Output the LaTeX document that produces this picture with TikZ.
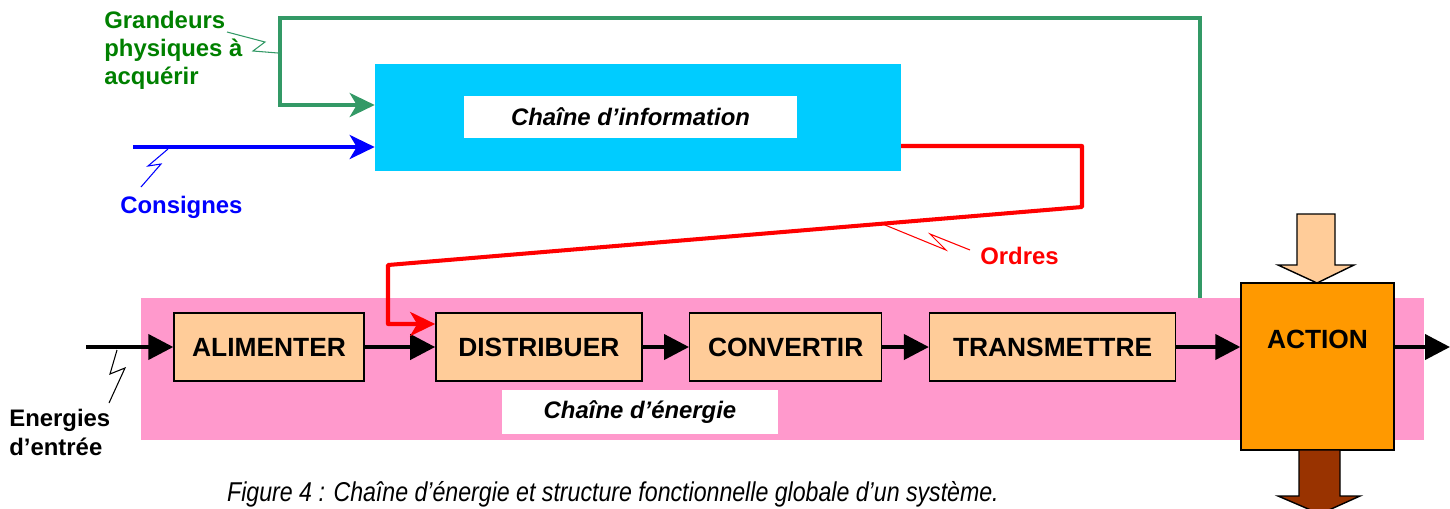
\documentclass[tikz,border=0pt]{standalone}
\usepackage{fontspec}
\setmainfont{Liberation Sans}
\newfontfamily\legendefont[FakeStretch=0.85]{Liberation Sans}
\usetikzlibrary{arrows.meta}
\usetikzlibrary{calc}
\usetikzlibrary{positioning}

\definecolor{rosebande}{HTML}{FF99CC}
\definecolor{cyaninfo}{HTML}{00CCFF}
\definecolor{peche}{HTML}{FFCC99}
\definecolor{orangeaction}{HTML}{FF9900}
\definecolor{brun}{HTML}{993300}
\definecolor{vertligne}{HTML}{339966}
\definecolor{verttexte}{HTML}{008000}

\begin{document}
\begin{tikzpicture}[x=0.02cm,y=-0.02cm,
		fonction/.style={draw,rectangle,fill=peche,line width=0.8pt,minimum height=1.36cm,inner sep=0pt,font=\fontsize{15}{18}\selectfont\bfseries},
		titre/.style={fill=white,inner sep=0pt,font=\fontsize{13.6}{16}\selectfont\bfseries\itshape},
		etiquette/.style={inner sep=0pt,align=left,font=\fontsize{13.6}{16}\selectfont\bfseries},
		flux/.style={line width=2.3pt,-{Triangle[length=0.5cm,width=0.5cm]}},
		signal/.style={line width=2.3pt,-{Stealth[length=0.5cm,width=0.48cm,inset=0.14cm]}},
		eclair/.style={line width=0.6pt}]
		\useasboundingbox (0,0) rectangle (1450,508);

		\node [fill=rosebande,minimum width=25.66cm,minimum height=2.84cm,inner sep=0pt] (bande) at (782.5,369) {};
		\node [fill=cyaninfo,minimum width=10.52cm,minimum height=2.14cm,inner sep=0pt] (info) at (638,117.5) {};
		\node [titre,minimum width=6.66cm,minimum height=0.84cm] (titreinfo) at (630.5,117) {Cha\^ine d’information};
		\node [titre,minimum width=5.52cm,minimum height=0.88cm] (titreenergie) at (640,412) {Cha\^ine d’\'energie};

		\node [fonction,minimum width=3.8cm] (alim) at (269,347) {ALIMENTER};
		\node [fonction,minimum width=4.12cm,right=1.41cm of alim] (dist) {DISTRIBUER};
		\node [fonction,minimum width=3.84cm,right=0.93cm of dist] (conv) {CONVERTIR};
		\node [fonction,minimum width=4.92cm,right=0.93cm of conv] (trans) {TRANSMETTRE};
		\node [draw,fill=orangeaction,line width=0.8pt,minimum width=3.06cm,minimum height=3.34cm,
			label={[anchor=north,yshift=-0.84cm,font=\fontsize{15}{18}\selectfont\bfseries]north:ACTION}] (action) at (1317.5,366.5) {};

		\draw [fill=peche,line width=0.8pt] (1297,214) -- (1335,214) -- (1335,265) -- (1354,265) -- (1317,283) -- (1278,265) -- (1297,265) -- cycle;
		\draw [fill=brun,line width=0.8pt] (1299,450) -- (1340,450) -- (1340,496) -- (1360,496) -- (1320,514) -- (1278,496) -- (1299,496) -- cycle;

		\coordinate (entree) at (86,347);
		\coordinate (sortie) at (1450,347);
		\draw [flux] (entree) -- (alim);
		\draw [flux] (alim) -- (dist);
		\draw [flux] (dist) -- (conv);
		\draw [flux] (conv) -- (trans);
		\draw [flux] (trans.east) -- (trans.east -| action.west);
		\draw [flux] (action.east |- sortie) -- (sortie);

		\coordinate (g1) at (1200,298);
		\coordinate (g2) at (280,18);
		\coordinate (g3) at (280,105);
		\draw [signal,color=vertligne] (g1) |- (g2) -- (g3) -- (g3 -| info.west);

		\coordinate (cons) at (133,147);
		\draw [signal,color=blue] (cons) -- (cons -| info.west);

		\coordinate (r0) at (901,146);
		\coordinate (r1) at (1082,146);
		\coordinate (r2) at (1082,207);
		\coordinate (r3) at (388,265);
		\coordinate (r4) at (388,324);
		\draw [signal,color=red,line join=round] (r0) -- (r1) -- (r2) -- (r3) -- (r4) -- (r4 -| dist.west);

		\node [etiquette,text=verttexte,anchor=west] (grandeurs) at (104,50) {Grandeurs\\[0pt]physiques \`a\\[0pt]acqu\'erir};
		\node [etiquette,text=blue,anchor=west] (consignes) at (120,207) {Consignes};
		\node [etiquette,text=red,anchor=west] (ordres) at (980,256) {Ordres};
		\node [etiquette,anchor=west] (energies) at (9,432) {Energies\\[0.5pt]d’entr\'ee};

		\draw [eclair,color=vertligne] (227,32) -- (265,42) -- (253,51) -- (278,53);
		\draw [eclair,color=blue] (168,149) -- (148,166) -- (161,164) -- (141,187);
		\draw [eclair,color=red] (885,225) -- (946,250) -- (930,234) -- (970,250);
		\draw [eclair] (117,350) -- (110,374) -- (125,368) -- (109,403);

		\node [inner sep=0pt,anchor=base,font=\legendefont\itshape\fontsize{15.5}{18}\selectfont] (legende) at (613,501) {Figure 4 : Cha\^ine d’\'energie et structure fonctionnelle globale d’un syst\`eme.};
	\end{tikzpicture}
\end{document}
